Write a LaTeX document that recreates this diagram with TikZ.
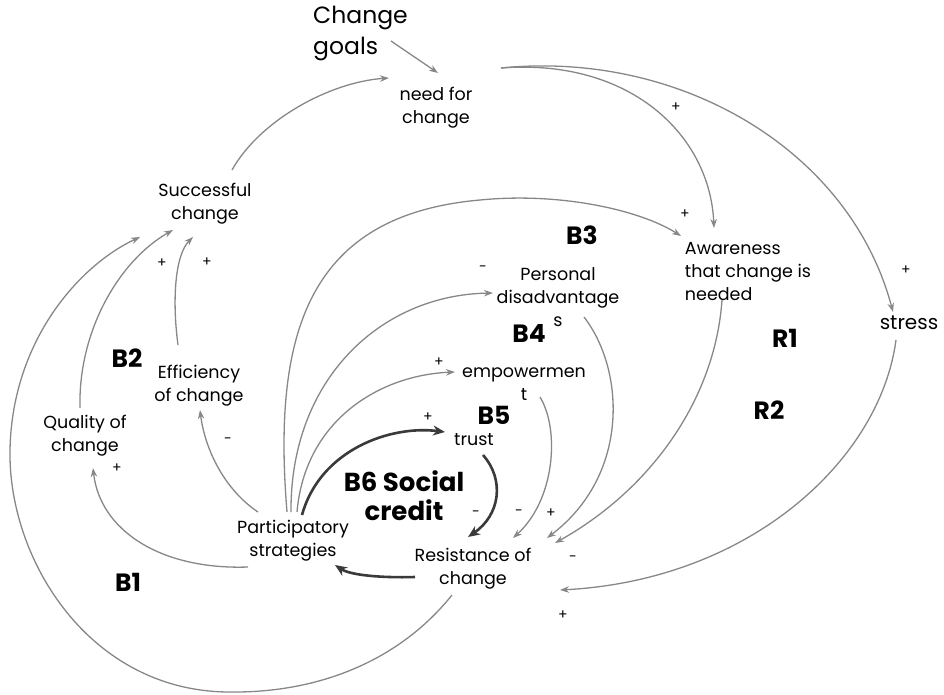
\documentclass[tikz,border=0pt]{standalone}
\usepackage{fontspec}
\setmainfont{Poppins}
\usetikzlibrary{arrows.meta}
\definecolor{linkgray}{HTML}{878787}
\definecolor{strongdark}{HTML}{3A3A3A}
\tikzset{
  var/.style={align=center, font=\fontsize{17.5}{23}\selectfont, inner sep=1pt},
  loopname/.style={font=\bfseries\fontsize{25}{28}\selectfont, inner sep=0pt},
  signlbl/.style={font=\fontsize{14}{14}\selectfont, inner sep=0pt},
  link/.style={draw=linkgray, line width=1.3pt, -{Stealth[length=9pt,width=6.5pt]}},
  stronglink/.style={draw=strongdark, line width=2.6pt, -{Stealth[length=12pt,width=10pt]}},
}
\begin{document}
\begin{tikzpicture}[x=1pt,y=-1pt]
\useasboundingbox (0,0) rectangle (944,694);

% variables
\node[var, align=left, anchor=west, font=\fontsize{23.5}{31}\selectfont] (goals) at (312,33) {Change\\goals};
\node[var] (need)    at (436,108) {need for\\change};
\node[var] (succ)    at (205,204) {Successful\\change};
\node[var, align=left] (aware) at (748,272) {Awareness\\that change is\\needed};
\node[var, font=\fontsize{20}{23}\selectfont] (stress) at (909,323) {stress};
\node[var] (disadv)  at (558,297) {Personal\\disadvantage\\s};
\node[var] (empow)   at (524,384) {empowermen\\t};
\node[var] (trust)   at (474,440) {trust};
\node[var] (effic)   at (199,386) {Efficiency\\of change};
\node[var] (quality) at (85,436)  {Quality of\\change};
\node[var] (part)    at (293,541) {Participatory\\strategies};
\node[var] (resist)  at (473,569) {Resistance of\\change};

% loop names
\node[loopname] (b1) at (128,582) {B1};
\node[loopname] (b2) at (127,358) {B2};
\node[loopname] (b3) at (582,235) {B3};
\node[loopname] (b4) at (529,333) {B4};
\node[loopname] (b5) at (494,415) {B5};
\node[loopname, align=center, font=\bfseries\fontsize{26}{29}\selectfont] (b6) at (404,496) {B6 Social\\credit};
\node[loopname] (r1) at (785,338) {R1};
\node[loopname] (r2) at (769,410) {R2};

% polarity signs
\node[signlbl] (s1)  at (676,107) {+};
\node[signlbl] (s2)  at (685,214) {+};
\node[signlbl] (s3)  at (906,270) {+};
\node[signlbl] (s4)  at (483,269) {-};
\node[signlbl] (s5)  at (439,362) {+};
\node[signlbl] (s6)  at (428,417) {+};
\node[signlbl] (s7)  at (162,263) {+};
\node[signlbl] (s8)  at (207,262) {+};
\node[signlbl] (s9)  at (228,441) {-};
\node[signlbl] (s10) at (117,468) {+};
\node[signlbl] (s11) at (476,514) {-};
\node[signlbl] (s12) at (519,513) {-};
\node[signlbl] (s13) at (551,513) {+};
\node[signlbl] (s14) at (573,559) {-};
\node[signlbl] (s15) at (563,615) {+};

% causal links
\draw[link] ([shift={(79,8)}]goals.west) -- ([shift={(2,-35)}]need.center);
\draw[link] ([shift={(27,-34)}]succ.center) .. controls (260,120) and (330,82) .. ([shift={(-47,-30)}]need.center);
\draw[link] ([shift={(65,-40)}]need.center) .. controls (630,58) and (710,135) .. ([shift={(-34,-44)}]aware.center);
\draw[link] ([shift={(65,-40)}]need.center) .. controls (680,50) and (850,150) .. ([shift={(-16,-11)}]stress.center);
\draw[link] ([shift={(-13,17)}]stress.center) .. controls (880,460) and (750,580) .. ([shift={(87,21)}]resist.center);
\draw[link] ([shift={(-26,28)}]aware.center) .. controls (715,400) and (650,490) .. ([shift={(82,-26)}]resist.center);
\draw[link] ([shift={(26,20)}]disadv.center) .. controls (625,370) and (630,475) .. ([shift={(74,-31)}]resist.center);
\draw[link] ([shift={(16,13)}]empow.center) .. controls (560,430) and (555,500) .. ([shift={(40,-31)}]resist.center);
\draw[stronglink] ([shift={(9,15)}]trust.center) .. controls (505,480) and (500,515) .. ([shift={(-5,-32)}]resist.center);
\draw[stronglink] ([shift={(-58,8)}]resist.center) .. controls (380,578) and (350,575) .. ([shift={(42,24)}]part.center);
\draw[stronglink] ([shift={(9,-26)}]part.center) .. controls (320,450) and (390,425) .. ([shift={(-29,-8)}]trust.center);
\draw[link] ([shift={(4,-29)}]part.center) .. controls (305,420) and (380,375) .. ([shift={(-69,-12)}]empow.center);
\draw[link] ([shift={(-2,-29)}]part.center) .. controls (290,380) and (380,295) .. ([shift={(-65,-4)}]disadv.center);
\draw[link] ([shift={(-6,-29)}]part.center) .. controls (272,330) and (310,215) .. (480,200)
  .. controls (560,192) and (640,210) .. ([shift={(-67,-36)}]aware.center);
\draw[link] ([shift={(-35,-29)}]part.center) .. controls (225,490) and (205,450) .. ([shift={(1,24)}]effic.center);
\draw[link] ([shift={(-45,26)}]part.center) .. controls (160,570) and (100,530) .. ([shift={(8,32)}]quality.center);
\draw[link] ([shift={(-21,-41)}]effic.center) .. controls (172,300) and (175,255) .. ([shift={(-12,33)}]succ.center);
\draw[link] ([shift={(-5,-28)}]quality.center) .. controls (78,330) and (120,260) .. ([shift={(-32,26)}]succ.center);
\draw[link] ([shift={(-21,26)}]resist.center) .. controls (400,660) and (320,693) .. (230,692)
  .. controls (90,692) and (8,560) .. (10,450)
  .. controls (12,340) and (80,265) .. ([shift={(-65,33)}]succ.center);
\end{tikzpicture}
\end{document}
